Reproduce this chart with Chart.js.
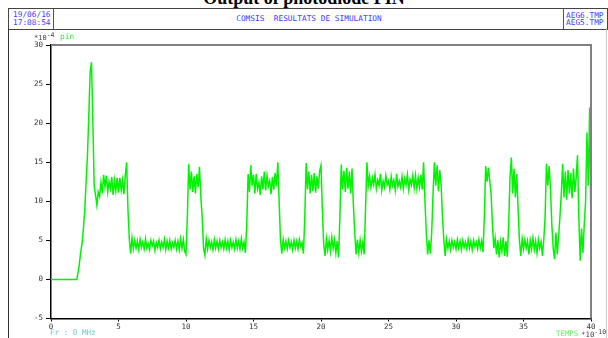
<!DOCTYPE html>
<html>
<head>
<meta charset="utf-8">
<title>Output of photodiode PIN</title>
<script src="https://cdn.jsdelivr.net/npm/chart.js@4.4.0/dist/chart.umd.min.js"></script>
<style>
    body { margin: 0; background: #fff; width: 608px; height: 338px; overflow: hidden; position: relative; }
    canvas { position: absolute; left: 0; top: 0; }
    .txt { position: absolute; font-family: "DejaVu Sans Mono", monospace; white-space: pre; line-height: 1; }
    #title { position: absolute; left: 0; width: 608px; top: -11px; text-align: center;
             font: bold 18px "Liberation Serif", serif; line-height: 18px; color: #000; }
    #header { position: absolute; left: 8px; top: 8px; width: 598px; height: 20px;
              border: 1px solid #444; border-bottom-width: 1.5px; }
    .cell { position: absolute; top: 0; height: 20px; font-family: "DejaVu Sans Mono", monospace;
            font-size: 7.8px; color: #3c3cff; white-space: pre; }
    .date { left: 0; width: 45px; border-right: 1.5px solid #555; padding: 2px 0 0 4px; line-height: 7.6px; box-sizing: border-box; }
    .name { left: 46px; width: 508px; text-align: center; line-height: 20px; }
    .files { left: 554px; width: 44px; border-left: 1.5px solid #555; padding: 3px 0 0 2px; line-height: 7.2px; box-sizing: border-box; }
    #frameL { position: absolute; left: 8px; top: 28px; width: 1px; height: 310px; background: #333; }
    #frameR { position: absolute; left: 606px; top: 28px; width: 1px; height: 310px; background: #ccc; }
    sup { font-size: 6.5px; vertical-align: 3px; }
</style>
</head>
<body>
<div id="title">Output of photodiode PIN</div>
<div id="header">
    <div class="cell date">19/06/16
17:08:54</div>
    <div class="cell name">COMSIS  RESULTATS DE SIMULATION</div>
    <div class="cell files">AEG6.TMP
AEG5.TMP</div>
</div>
<div id="frameL"></div>
<div id="frameR"></div>
<canvas id="pinChart" width="608" height="338"></canvas>
<span class="txt" style="left:34px;top:32px;font-size:7px;color:#444">*10<sup>-4</sup></span>
<span class="txt" style="left:60px;top:33px;font-size:7.8px;color:#33ee33">pin</span>
<span class="txt" style="left:50px;top:329px;font-size:7.6px;color:#6cc6c6">Fr : 0 MHz</span>
<span class="txt" style="left:556px;top:329.5px;font-size:7.4px;color:#66ee66">TEMPS</span>
<span class="txt" style="left:581px;top:328.5px;font-size:7.4px;color:#444">*10<sup>-10</sup></span>

<script>
// Photodiode PIN output - COMSIS simulation trace

// sample grid on the time axis (units of 1e-10 s)
const T_START = 0;
const T_STEP = 0.1;

// pin output (units of 1e-4), one row per time unit
const PIN = [
    0, 0, 0, 0, 0, 0, 0, 0, 0, 0,
    0, 0, 0, 0, 0, 0, 0, 0, 0, 0,
    0.8, 2.0, 3.5, 4.6, 6.5, 8.8, 12.5, 15.8, 21.0, 26.5,
    27.8, 20.2, 12.0, 10.8, 9.5, 11.2, 10.6, 12.4, 11.0, 13.4,
    11.8, 13.3, 11.2, 12.5, 11.6, 13.1, 10.8, 12.7, 11.3, 13.0,
    11.1, 13.0, 11.4, 12.7, 10.9, 13.2, 15.0, 9.0, 5.2, 3.3,
    5.3, 3.9, 5.0, 4.0, 4.9, 3.8, 5.1, 4.1, 4.8, 3.9,
    5.2, 4.0, 4.6, 3.8, 5.0, 4.3, 4.9, 3.7, 4.7, 4.1,
    5.0, 3.9, 4.8, 4.1, 5.1, 3.8, 4.9, 4.0, 5.0, 3.9,
    4.7, 4.1, 5.0, 3.9, 4.9, 3.8, 5.2, 4.0, 5.1, 3.6,
    3.2, 8.0, 14.8, 11.5, 13.8, 11.2, 13.2, 11.0, 13.5, 11.8,
    14.4, 10.5, 8.0, 4.0, 3.1, 5.2, 3.9, 5.0, 4.1, 4.8,
    3.8, 5.1, 4.0, 4.9, 3.9, 5.0, 4.1, 4.8, 3.9, 5.1,
    4.0, 4.9, 3.8, 5.0, 4.1, 4.8, 3.9, 5.1, 4.0, 4.9,
    3.9, 5.2, 4.0, 4.8, 3.4, 7.0, 13.5, 11.2, 14.6, 12.0,
    13.4, 11.0, 13.5, 11.6, 12.4, 10.8, 13.2, 11.5, 13.8, 11.4,
    13.3, 11.9, 12.6, 10.9, 13.1, 11.5, 13.6, 11.9, 15.0, 10.0,
    5.0, 3.3, 5.1, 4.0, 4.9, 3.9, 5.0, 4.1, 4.8, 3.8,
    5.0, 4.0, 4.9, 3.9, 5.1, 4.2, 4.7, 3.3, 8.0, 14.9,
    11.5, 13.8, 11.0, 13.4, 11.3, 13.6, 11.1, 13.2, 11.6, 13.9,
    14.6, 9.0, 4.5, 3.0, 5.2, 3.8, 5.0, 3.6, 5.4, 4.0,
    5.1, 3.4, 4.9, 2.8, 8.0, 14.7, 11.5, 13.9, 11.2, 14.3,
    11.6, 13.8, 11.0, 14.2, 9.5, 6.0, 3.2, 5.1, 3.4, 5.0,
    3.6, 4.8, 3.2, 9.0, 15.0, 12.0, 13.2, 11.8, 13.0, 12.1,
    13.4, 11.6, 12.7, 12.0, 13.5, 11.4, 12.6, 11.8, 13.3, 12.1,
    12.6, 11.5, 13.2, 12.0, 12.7, 11.4, 13.5, 11.9, 12.6, 11.8,
    13.2, 11.6, 12.9, 12.1, 13.4, 11.5, 12.8, 12.1, 13.3, 11.7,
    13.3, 11.6, 13.0, 11.8, 13.4, 11.5, 15.0, 10.0, 6.0, 3.2,
    5.0, 3.3, 6.0, 11.0, 15.0, 12.0, 14.6, 11.3, 14.0, 12.0,
    8.0, 5.0, 3.0, 5.1, 4.0, 4.9, 3.8, 5.0, 4.1, 4.8,
    3.9, 5.1, 4.0, 4.9, 3.8, 5.0, 4.1, 4.8, 3.9, 5.1,
    4.0, 4.9, 3.8, 5.0, 4.2, 4.8, 3.9, 5.1, 4.0, 4.9,
    3.5, 8.0, 14.5, 12.5, 14.3, 12.6, 11.0, 7.0, 4.0, 5.3,
    3.2, 5.0, 2.8, 4.8, 3.6, 5.4, 3.0, 4.9, 2.9, 7.0,
    13.0, 15.6, 11.0, 14.2, 10.5, 13.5, 9.0, 5.0, 3.0, 5.2,
    3.9, 5.1, 4.0, 4.9, 3.2, 5.0, 3.9, 5.3, 3.8, 4.9,
    3.4, 5.1, 4.0, 4.8, 3.0, 5.0, 8.0, 14.8, 12.0, 14.5,
    11.5, 7.0, 4.0, 2.6, 6.0, 3.2, 5.5, 8.0, 11.0, 14.8,
    10.5, 13.8, 10.2, 14.0, 11.0, 13.6, 10.4, 14.2, 11.2, 13.0,
    15.9, 8.0, 2.4, 6.5, 3.4, 7.0, 10.0, 18.8, 12.0, 22.0,
    5.0
];

// axis ranges and tick spacing
const X_MIN = 0, X_MAX = 40, X_STEP = 5;
const Y_MIN = -5, Y_MAX = 30, Y_STEP = 5;

const TICK_FONT = { family: 'DejaVu Sans Mono', size: 7.5 };

// grey frame on the top and right of the plot
const plotFrame = {
    id: 'plotFrame',
    afterDraw(chart) {
        const { ctx, chartArea: a } = chart;
        ctx.save();
        ctx.strokeStyle = '#808080';
        ctx.lineWidth = 2;
        ctx.beginPath();
        ctx.moveTo(a.left, a.top);
        ctx.lineTo(a.right, a.top);
        ctx.lineTo(a.right, a.bottom);
        ctx.stroke();
        ctx.restore();
    }
};

document.addEventListener('DOMContentLoaded', () => {
    const ctx = document.getElementById('pinChart').getContext('2d');
    const points = PIN.map((v, i) => ({ x: T_START + i * T_STEP, y: v }));

    new Chart(ctx, {
        type: 'line',
        data: {
            datasets: [{
                label: 'pin',
                data: points,
                borderColor: '#00f400',
                borderWidth: 1.5,
                pointRadius: 0,
                tension: 0,
                fill: false
            }]
        },
        options: {
            responsive: false,
            animation: false,
            devicePixelRatio: 1,
            layout: { padding: { left: 0, right: 17, top: 45, bottom: 0 } },
            plugins: {
                legend: { display: false },
                tooltip: { enabled: false }
            },
            scales: {
                x: {
                    type: 'linear',
                    min: X_MIN,
                    max: X_MAX,
                    afterFit: (scale) => { scale.height = 19.5; },
                    border: { color: '#000', width: 1.5 },
                    grid: { drawOnChartArea: false, tickLength: 3, color: '#000' },
                    ticks: {
                        stepSize: X_STEP,
                        maxRotation: 0,
                        padding: 1,
                        color: '#333',
                        font: TICK_FONT
                    }
                },
                y: {
                    min: Y_MIN,
                    max: Y_MAX,
                    afterFit: (scale) => { scale.width = 51; },
                    border: { color: '#000', width: 1.5 },
                    grid: { drawOnChartArea: false, tickLength: 5, color: '#000' },
                    ticks: {
                        stepSize: Y_STEP,
                        padding: 3,
                        color: '#333',
                        font: TICK_FONT
                    }
                }
            }
        },
        plugins: [plotFrame]
    });
});
</script>
</body>
</html>
